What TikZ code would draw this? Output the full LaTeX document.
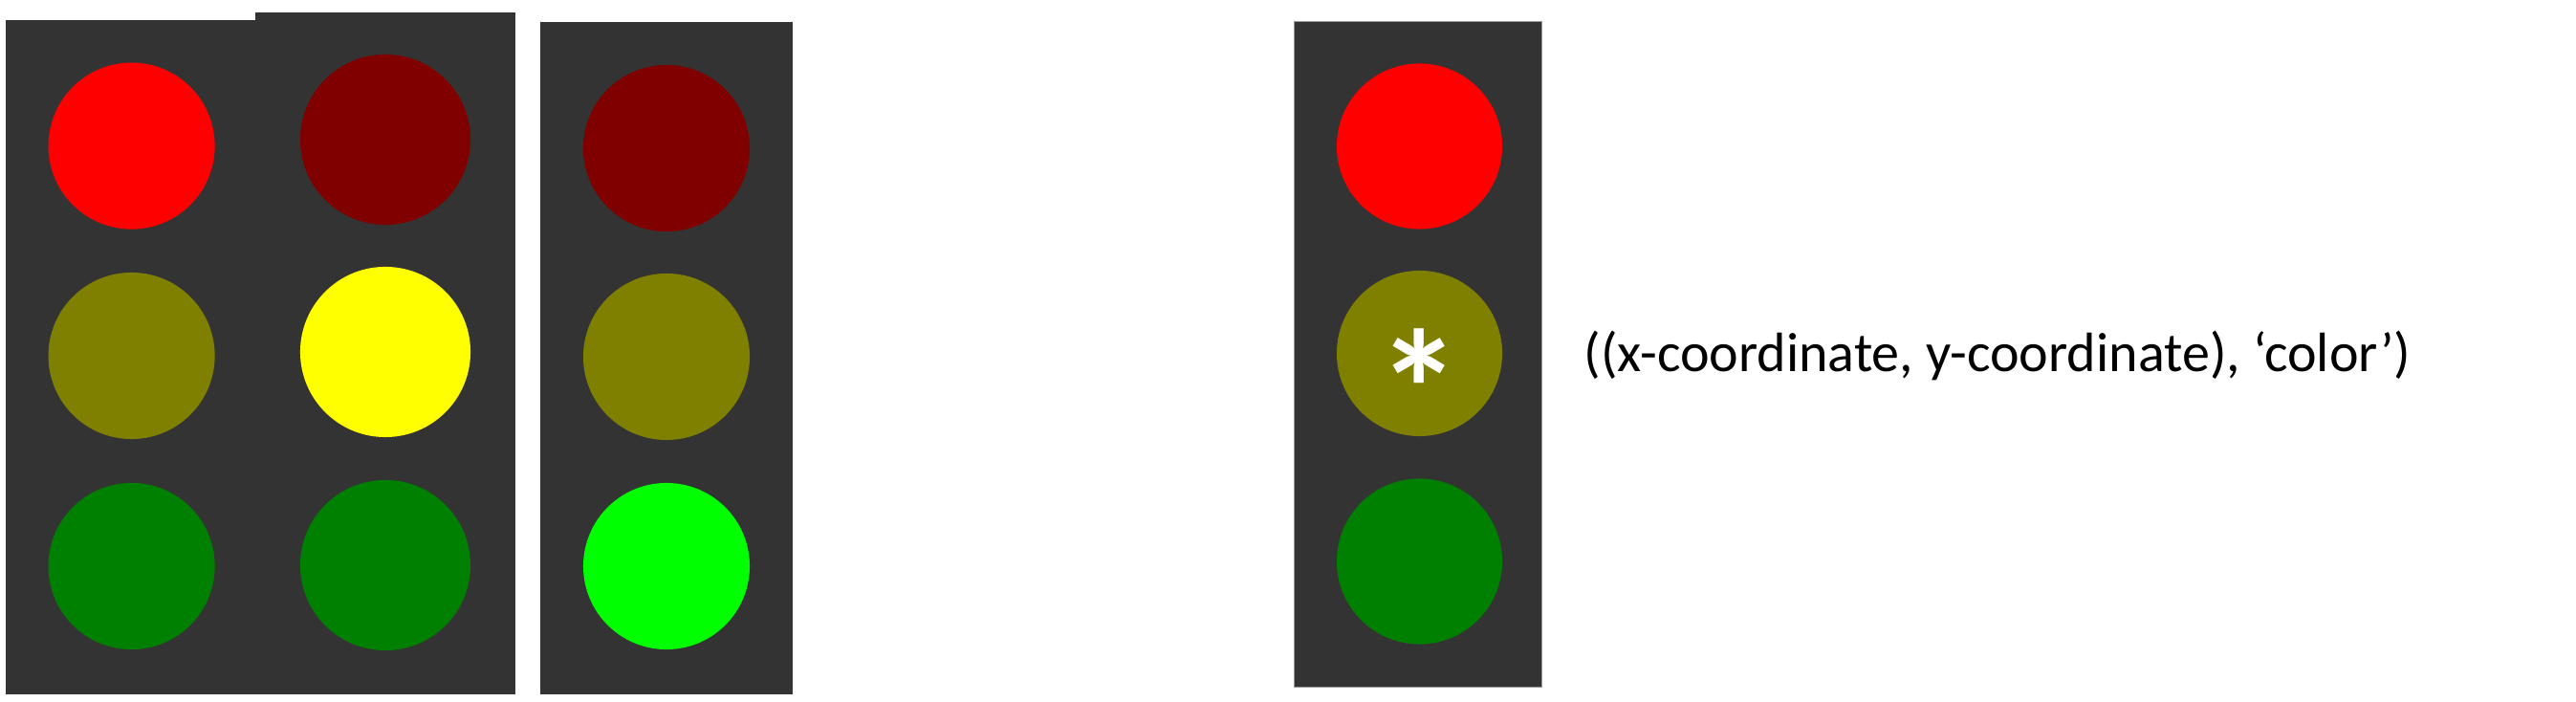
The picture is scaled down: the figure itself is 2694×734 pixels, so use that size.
\documentclass[tikz,border=0pt]{standalone}
\usepackage{fontspec}
\setmainfont{Carlito}
\usetikzlibrary{positioning}

\definecolor{housingGray}{RGB}{51,51,51}
\definecolor{lampRed}{RGB}{255,0,0}
\definecolor{lampMaroon}{RGB}{128,0,0}
\definecolor{lampOlive}{RGB}{128,128,0}
\definecolor{lampYellow}{RGB}{255,255,0}
\definecolor{lampGreen}{RGB}{0,128,0}
\definecolor{lampLime}{RGB}{0,255,0}

\begin{document}
\begin{tikzpicture}[
    x=0.01cm, y=-0.01cm,
    housing/.style={rectangle, fill=housingGray, inner sep=0pt, anchor=north west},
    lamp/.style={circle, inner sep=0pt, minimum size=1.74cm},
    selected/.style={font=\fontsize{50pt}{50pt}\selectfont\bfseries, text=white, inner sep=0pt},
    tuple/.style={font=\fontsize{16.5pt}{19pt}\selectfont, inner sep=0pt}
]
\useasboundingbox (0,0) rectangle (2694,734);

% Two signals side by side (Left)
\node[housing, minimum width=2.62cm, minimum height=7.05cm] (sigA-box) at (5.7,20) {};
\node[housing, minimum width=2.72cm, minimum height=7.13cm] (sigB-box) at (266.6,12) {};

\foreach \i/\y/\col in {1/152.6/lampRed, 2/372/lampOlive, 3/592/lampGreen} {
    \node[lamp, fill=\col] (sigA-\i) at (137.6,\y) {};
}
\foreach \i/\y/\col in {1/146/lampMaroon, 2/368/lampYellow, 3/591/lampGreen} {
    \node[lamp, fill=\col, minimum size=1.78cm] (sigB-\i) at (403,\y) {};
}

% Third signal
\node[housing, minimum width=2.64cm, minimum height=7.03cm] (sigC-box) at (564,22) {};
\foreach \i/\y/\col in {1/155/lampMaroon, 2/373/lampOlive, 3/592/lampLime} {
    \node[lamp, fill=\col] (sigC-\i) at (697,\y) {};
}

% Marked signal (Right Side)
\node[housing, draw=black!40, line width=0.01cm, minimum width=2.59cm, minimum height=6.95cm] (sigD-box) at (1352.7,22.4) {};
\foreach \i/\y/\col in {1/153/lampRed, 2/369.5/lampOlive, 3/587/lampGreen} {
    \node[lamp, fill=\col, minimum size=1.73cm] (sigD-\i) at (1484.5,\y) {};
}
\node[selected, anchor=north] (sigD-mark) at (1484.5,343) {*};

% Tuple description
\node[tuple, anchor=base west] (sigD-tuple) at (1656,389) {((x-coordinate, y-coordinate), ‘color’)};

\end{tikzpicture}
\end{document}
